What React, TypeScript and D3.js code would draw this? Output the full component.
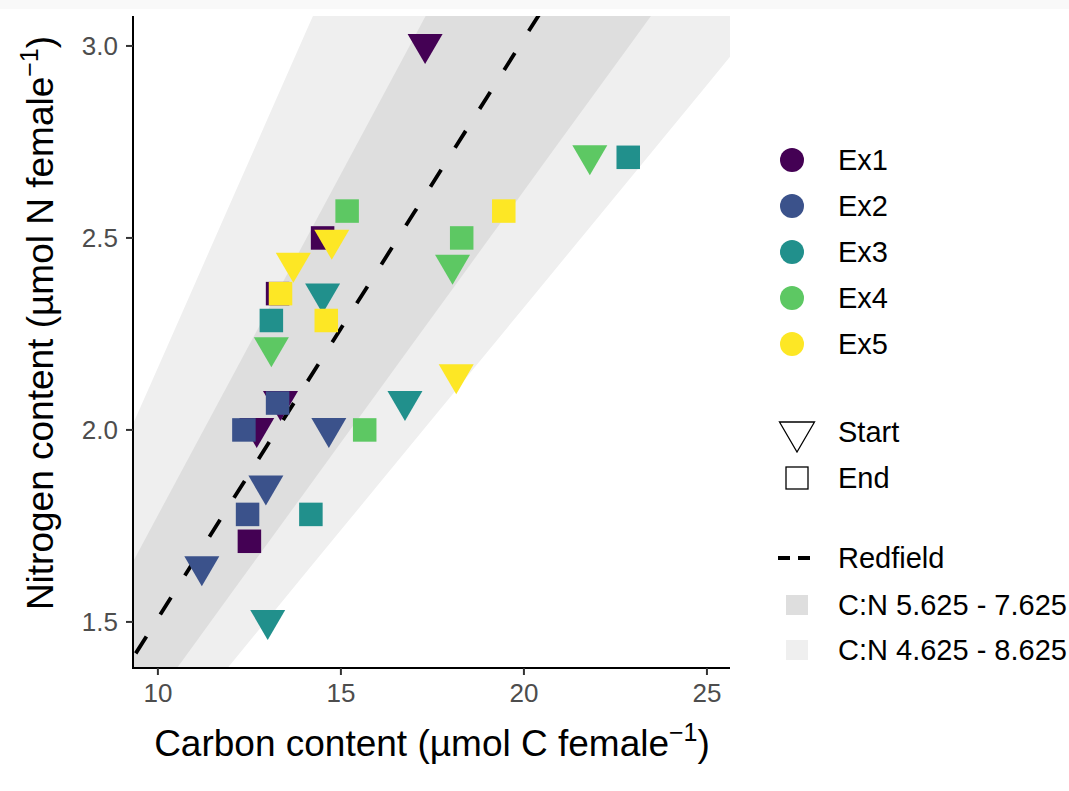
import React from 'react';
import * as d3 from 'd3';

// one entry per point: experiment, phase, carbon (x), nitrogen (y)
const experiment = ['Ex1','Ex1','Ex1','Ex1','Ex1','Ex1',
  'Ex2','Ex2','Ex2','Ex2','Ex2','Ex2',
  'Ex3','Ex3','Ex3','Ex3','Ex3','Ex3',
  'Ex4','Ex4','Ex4','Ex4','Ex4','Ex4',
  'Ex5','Ex5','Ex5','Ex5','Ex5','Ex5'];
const phase = ['Start','Start','Start','End','End','End',
  'Start','Start','Start','End','End','End',
  'Start','Start','Start','End','End','End',
  'Start','Start','Start','End','End','End',
  'Start','Start','Start','End','End','End'];
const carbon = [17.3, 13.35, 12.7, 14.5, 13.27, 12.5,
  14.67, 12.95, 11.2, 13.27, 12.35, 12.45,
  14.5, 16.75, 13.0, 13.1, 22.85, 14.18,
  18.05, 21.8, 13.1, 15.17, 18.3, 15.65,
  14.75, 13.7, 18.15, 13.35, 14.6, 19.45];
const nitrogen = [3.0, 2.07, 2.0, 2.5, 2.355, 1.71,
  2.0, 1.85, 1.64, 2.07, 2.0, 1.78,
  2.35, 2.07, 1.5, 2.285, 2.71, 1.78,
  2.425, 2.71, 2.21, 2.57, 2.5, 2.0,
  2.49, 2.43, 2.14, 2.355, 2.285, 2.57];

const experiments = ['Ex1','Ex2','Ex3','Ex4','Ex5'];
const expColors = ['#440154','#3B528B','#21908C','#5DC863','#FDE725'];
const xTicks = [10, 15, 20, 25];
const yTicks = [1.5, 2.0, 2.5, 3.0];
const redfield = 6.625;
const bands = [
  { lo: 4.625, hi: 8.625, label: 'C:N 4.625 - 8.625', fill: '#efefef' },
  { lo: 5.625, hi: 7.625, label: 'C:N 5.625 - 7.625', fill: '#dedede' },
];

const font = '"Liberation Sans", Arial, sans-serif';

export default function App() {
  const left = 133, right = 730, top = 16, bottom = 668;
  const x = d3.scaleLinear().domain([9.32, 25.63]).range([left, right]);
  const y = d3.scaleLinear().domain([1.38, 3.078]).range([bottom, top]);
  const color = d3.scaleOrdinal<string, string>().domain(experiments).range(expColors);

  const cs = d3.range(0, 41, 1);
  const bandPath = (lo: number, hi: number) =>
    d3.area<number>()
      .x(c => x(c))
      .y0(c => y(c / hi))
      .y1(c => y(c / lo))(cs) as string;
  const redLine = d3.line<number>().x(c => x(c)).y(c => y(c / redfield))(cs) as string;

  const tw = 35, th = 30, sq = 23.5;
  const tri = (cx: number, cy: number) =>
    `M${cx - tw / 2},${cy - th * 0.4}L${cx + tw / 2},${cy - th * 0.4}L${cx},${cy + th * 0.6}Z`;

  const legX = 792, textX = 838, legFont = 29;
  const expY = [160, 206, 252, 298, 344];

  return (
    <svg width={1069} height={791} style={{ position: 'absolute', left: 0, top: 0, background: '#fff' }}
      fontFamily={font}>
      <rect x={0} y={0} width={1069} height={9} fill="#f9f9f9" />
      <defs>
        <clipPath id="panel">
          <rect x={left} y={top} width={right - left} height={bottom - top} />
        </clipPath>
      </defs>
      <g clipPath="url(#panel)">
        {bands.map(b => <path key={b.label} d={bandPath(b.lo, b.hi)} fill={b.fill} />)}
        <path d={redLine} fill="none" stroke="#000" strokeWidth={3.8} strokeDasharray="20,26" />
      </g>
      {carbon.map((c, i) => {
        const px = x(c), py = y(nitrogen[i]);
        const fill = color(experiment[i]);
        return phase[i] === 'Start'
          ? <path key={i} d={tri(px, py)} fill={fill} />
          : <rect key={i} x={px - sq / 2} y={py - sq / 2} width={sq} height={sq} fill={fill} />;
      })}
      {/* axes */}
      <line x1={left} x2={left} y1={top} y2={bottom + 1} stroke="#000" strokeWidth={2} />
      <line x1={left - 1} x2={right} y1={bottom} y2={bottom} stroke="#000" strokeWidth={2} />
      {xTicks.map(t => (
        <g key={t}>
          <line x1={x(t)} x2={x(t)} y1={bottom} y2={bottom + 7} stroke="#333" strokeWidth={2} />
          <text x={x(t)} y={bottom + 25} textAnchor="middle" dominantBaseline="central" fontSize={26} fill="#4d4d4d">{t}</text>
        </g>
      ))}
      {yTicks.map(t => (
        <g key={t}>
          <line x1={left - 7} x2={left} y1={y(t)} y2={y(t)} stroke="#333" strokeWidth={2} />
          <text x={left - 15} y={y(t)} textAnchor="end" dominantBaseline="central" fontSize={26} fill="#4d4d4d">{t.toFixed(1)}</text>
        </g>
      ))}
      <text x={432} y={756} textAnchor="middle" fontSize={37} fill="#000">
        Carbon content (µmol C female<tspan dy={-15} fontSize={25}>−1</tspan><tspan dy={15}>)</tspan>
      </text>
      <text transform={`translate(53,323) rotate(-90)`} textAnchor="middle" fontSize={37} fill="#000">
        Nitrogen content (µmol N female<tspan dy={-15} fontSize={25}>−1</tspan><tspan dy={15}>)</tspan>
      </text>
      {/* legend */}
      {experiments.map((e, i) => (
        <g key={e}>
          <circle cx={legX} cy={expY[i]} r={12} fill={color(e)} />
          <text x={textX} y={expY[i]} dominantBaseline="central" fontSize={legFont}>{e}</text>
        </g>
      ))}
      <path d={tri(797, 434)} fill="none" stroke="#000" strokeWidth={1.3} />
      <text x={textX} y={432} dominantBaseline="central" fontSize={legFont}>Start</text>
      <rect x={797 - 11} y={478 - 11} width={22} height={22} fill="none" stroke="#000" strokeWidth={1.3} />
      <text x={textX} y={478} dominantBaseline="central" fontSize={legFont}>End</text>
      <line x1={778} x2={815} y1={558} y2={558} stroke="#000" strokeWidth={4} strokeDasharray="12,8" />
      <text x={textX} y={558} dominantBaseline="central" fontSize={legFont}>Redfield</text>
      {[bands[1], bands[0]].map((b, i) => (
        <g key={b.label}>
          <rect x={786} y={(i ? 650 : 605) - 10} width={22} height={20} fill={b.fill} />
          <text x={textX} y={i ? 650 : 605} dominantBaseline="central" fontSize={legFont}>{b.label}</text>
        </g>
      ))}
    </svg>
  );
}
